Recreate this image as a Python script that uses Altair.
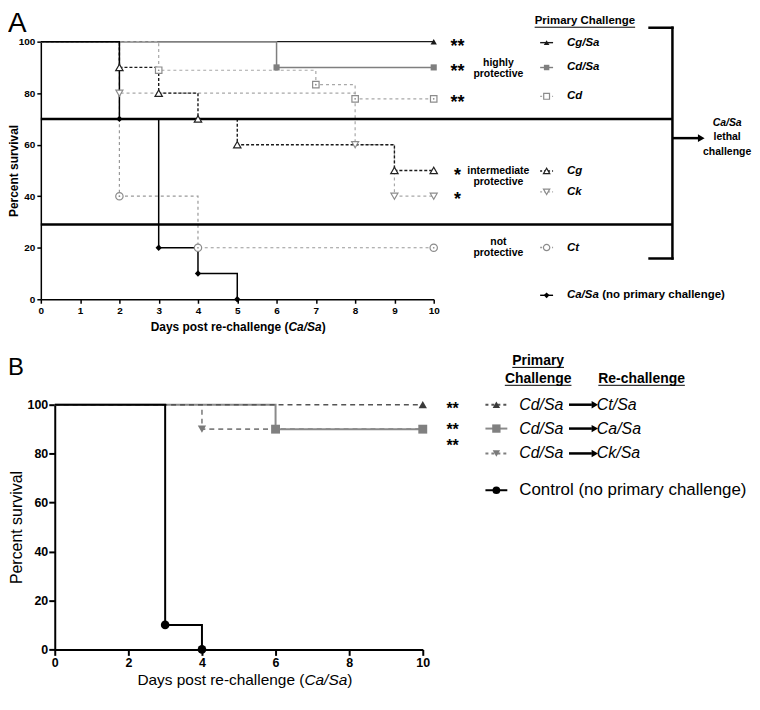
import altair as alt
import pandas as pd

FONT = "Liberation Sans"

# ---------------- Panel A data (days, percent survival) ----------------
a_cgsa_days = [0, 10]
a_cgsa_pct = [100, 100]
a_cdsa_days = [0, 6, 10]
a_cdsa_pct = [100, 90, 90]
a_cd_days = [0, 3, 7, 8, 10]
a_cd_pct = [100, 88.9, 83.3, 77.8, 77.8]
a_cg_days = [0, 2, 3, 4, 5, 9, 10]
a_cg_pct = [100, 90, 80, 70, 60, 50, 50]
a_ck_days = [0, 2, 8, 9, 10]
a_ck_pct = [100, 80, 60, 40, 40]
a_ct_days = [0, 2, 4, 10]
a_ct_pct = [100, 40, 20, 20]
a_casa_days = [0, 2, 3, 4, 5]
a_casa_pct = [100, 70, 20, 10, 0]
a_band_limits = [70, 29]
a_x_ticks = [0, 1, 2, 3, 4, 5, 6, 7, 8, 9, 10]
a_y_ticks = [0, 20, 40, 60, 80, 100]

# ---------------- Panel B data ----------------
b_ct_days = [0, 10]
b_ct_pct = [100, 100]
b_ca_days = [0, 6, 10]
b_ca_pct = [100, 90, 90]
b_ck_days = [0, 4, 10]
b_ck_pct = [100, 90, 90]
b_ctrl_days = [0, 3, 4]
b_ctrl_pct = [100, 10, 0]
b_x_ticks = [0, 2, 4, 6, 8, 10]
b_y_ticks = [0, 20, 40, 60, 80, 100]

ONE = pd.DataFrame({"k": [0]})


def text(s, x, y, size, weight="normal", style="normal", align="left",
         baseline="middle", color="black", dy=0):
    kw = dict(text=s, fontSize=size, fontWeight=weight, fontStyle=style,
              align=align, baseline=baseline, color=color, font=FONT, clip=False)
    if dy:
        kw["dy"] = dy
    return alt.Chart(ONE).mark_text(**kw).encode(x=alt.value(x), y=alt.value(y))


def seg(x1, x2, y, color="black", width=1.5, dash=None, cap="butt"):
    kw = dict(color=color, strokeWidth=width, clip=False, strokeCap=cap)
    if dash:
        kw["strokeDash"] = dash
    return alt.Chart(ONE).mark_rule(**kw).encode(
        x=alt.value(x1), x2=alt.value(x2), y=alt.value(y))


def vseg(x, y1, y2, color="black", width=1.5, cap="butt"):
    return alt.Chart(ONE).mark_rule(color=color, strokeWidth=width, clip=False,
                                    strokeCap=cap).encode(
        x=alt.value(x), y=alt.value(y1), y2=alt.value(y2))


def point_kw(shape, size, color, open_, sw):
    if open_:
        return dict(shape=shape, size=size, filled=True, fill="white", stroke=color,
                    strokeWidth=sw, opacity=1, clip=False)
    return dict(shape=shape, size=size, filled=True, color=color, opacity=1,
                strokeWidth=0, clip=False)


def glyph(x, y, shape, size, color, open_=False, sw=1.2):
    return alt.Chart(ONE).mark_point(**point_kw(shape, size, color, open_, sw)).encode(
        x=alt.value(x), y=alt.value(y))


def km_line(days, pct, color, width, dash, xenc, yenc):
    df = pd.DataFrame({"day": days, "pct": pct})
    kw = dict(interpolate="step-after", color=color, strokeWidth=width, clip=False)
    if dash:
        kw["strokeDash"] = dash
    return alt.Chart(df).mark_line(**kw).encode(x=xenc, y=yenc)


def km_marks(days, pct, shape, size, color, open_, xenc, yenc, sw=1.2, dot=False):
    df = pd.DataFrame({"day": days[1:], "pct": pct[1:]})
    base = alt.Chart(df)
    out = [base.mark_point(**point_kw(shape, size, color, open_, sw)).encode(x=xenc, y=yenc)]
    if dot:
        out.append(base.mark_point(shape="circle", size=3, filled=True, color=color,
                                   opacity=1, clip=False).encode(x=xenc, y=yenc))
    return out


# ================= PANEL A =================
WA, HA = 395, 259
axis_common_a = dict(labelFontSize=10, labelFontWeight="bold", labelFont=FONT,
                     labelColor="black", labelPadding=2, tickSize=4, tickWidth=1.5,
                     tickColor="black", domainColor="black", domainWidth=1.5,
                     grid=False)
xA = alt.X("day:Q", scale=alt.Scale(domain=[0, 10], nice=False, zero=False),
           axis=alt.Axis(values=a_x_ticks, title=None, labelFlush=False,
                         format="d", **axis_common_a))
yA = alt.Y("pct:Q", scale=alt.Scale(domain=[0, 100], nice=False),
           axis=alt.Axis(values=a_y_ticks, title="Percent survival", titleFont=FONT,
                         titleFontSize=12, titleFontWeight="bold", titleColor="black",
                         titleX=-27, titleY=HA / 2, titleAngle=270,
                         titleBaseline="middle", titleAlign="center",
                         **axis_common_a))

a_styles = [
    # days, pct, color, width, dash, shape, size, open, dot
    (a_cgsa_days, a_cgsa_pct, "#1a1a1a", 1.3, None, "triangle-up", 40, False, False),
    (a_cdsa_days, a_cdsa_pct, "#7f7f7f", 1.5, None, "square", 38, False, False),
    (a_cd_days, a_cd_pct, "#a8a8a8", 1.2, [3, 3], "square", 42, True, True),
    (a_ck_days, a_ck_pct, "#a8a8a8", 1.2, [3, 3], "triangle-down", 50, True, False),
    (a_ct_days, a_ct_pct, "#999999", 1.2, [3, 3], "circle", 55, True, True),
    (a_cg_days, a_cg_pct, "#1a1a1a", 1.4, [3, 2], "triangle-up", 55, True, False),
    (a_casa_days, a_casa_pct, "#000000", 1.5, None, "diamond", 40, False, False),
]

layers_a = []
for d, p, c, w, dash, *_ in a_styles:
    layers_a.append(km_line(d, p, c, w, dash, xA, yA))

# band limits
layers_a.append(alt.Chart(pd.DataFrame({"pct": a_band_limits})).mark_rule(
    color="black", strokeWidth=2.5, clip=False).encode(
    x=alt.value(0), x2=alt.value(635), y=yA))

for d, p, c, w, dash, shape, size, open_, dot in a_styles:
    layers_a += km_marks(d, p, shape, size, c if not open_ else ("#222222" if c == "#1a1a1a" else "#8c8c8c"),
                         open_, xA, yA, dot=dot)

# stars
for yy, s in [(0, "**"), (26, "**"), (57, "**"), (130, "*"), (154, "*")]:
    layers_a.append(text(s, 419, yy, 18, weight="bold", align="center",
                         baseline="alphabetic", dy=10))

# protection class labels
for s, yy in [("highly", 21), ("protective", 33), ("intermediate", 130),
              ("protective", 141), ("not", 201), ("protective", 213)]:
    layers_a.append(text(s, 460, yy, 10.5, weight="bold", align="center"))

# legend heading
layers_a.append(text("Primary Challenge", 547, -21, 11.5, weight="bold", align="center"))
layers_a.append(seg(496.5, 597.5, -14.5, width=1))

# legend rows: (label, y, color, dash, shape, size, open)
a_legend = [
    ("Cg/Sa", 1, "#1a1a1a", None, "triangle-up", 32, False),
    ("Cd/Sa", 26, "#7f7f7f", None, "square", 30, False),
    ("Cd", 55, "#a8a8a8", [2, 2], "square", 34, True),
    ("Cg", 130, "#1a1a1a", [2, 2], "triangle-up", 40, True),
    ("Ck", 151, "#a8a8a8", [2, 2], "triangle-down", 40, True),
    ("Ct", 207, "#999999", [2, 2], "circle", 40, True),
    ("Ca/Sa", 255, "#000000", None, "diamond", 34, False),
]
for lab, yy, c, dash, shape, size, open_ in a_legend:
    layers_a.append(seg(502, 515, yy, color=c, width=1.4, dash=dash))
    layers_a.append(glyph(508.5, yy, shape, size,
                          c if not open_ else ("#222222" if c == "#1a1a1a" else "#8c8c8c"),
                          open_=open_))
    layers_a.append(text(lab, 529, yy, 11.5, weight="bold", style="italic"))
layers_a.append(text("(no primary challenge)", 564.5, 255, 11.5, weight="bold"))

# bracket and arrow
layers_a.append(seg(612, 635, -14, width=2.5, cap="square"))
layers_a.append(vseg(635, -14, 218, width=2.5, cap="square"))
layers_a.append(seg(612, 635, 218, width=2.5, cap="square"))
layers_a.append(seg(635, 661, 97, width=2.5))
layers_a.append(glyph(664, 97, "triangle-right", 60, "black"))
layers_a.append(text("Ca/Sa", 690, 82, 10.5, weight="bold", style="italic", align="center"))
layers_a.append(text("lethal", 690, 96, 10.5, weight="bold", align="center"))
layers_a.append(text("challenge", 690, 111, 10.5, weight="bold", align="center"))

# x title (mixed style)
layers_a.append(text("Days post re-challenge (", 249, 287, 12, weight="bold", align="right"))
layers_a.append(text("Ca/Sa", 249, 287, 12, weight="bold", style="italic"))
layers_a.append(text(")", 282.5, 287, 12, weight="bold"))

# panel letter
layers_a.append(text("A", -33, -10, 28, baseline="alphabetic"))

panel_a = alt.layer(*layers_a).properties(width=WA, height=HA)

# ================= PANEL B =================
OB = 14                      # inner offset of panel B plot relative to panel A
WB, HB = 370, 246
axis_common_b = dict(labelFontSize=12.5, labelFontWeight="bold", labelFont=FONT,
                     labelColor="black", labelPadding=1, tickSize=6, tickWidth=2,
                     tickColor="black", domainColor="black", domainWidth=2,
                     grid=False)
xB = alt.X("day:Q", scale=alt.Scale(domain=[0, 10], nice=False, zero=False,
                                    range=[OB, OB + WB]),
           axis=alt.Axis(values=b_x_ticks, title=None, labelFlush=False,
                         format="d", **axis_common_b))
yB = alt.Y("pct:Q", scale=alt.Scale(domain=[0, 100], nice=False),
           axis=alt.Axis(values=b_y_ticks, title="Percent survival", titleFont=FONT,
                         titleFontSize=16, titleFontWeight="normal", titleColor="black",
                         titleX=-38, titleY=HB / 2, titleAngle=270,
                         titleBaseline="middle", titleAlign="center", offset=-OB,
                         **axis_common_b))

b_styles = [
    (b_ck_days, b_ck_pct, "#808080", 1.6, [5, 4], "triangle-down", 70, "#7a7a7a"),
    (b_ca_days, b_ca_pct, "#8a8a8a", 2.0, None, "square", 80, "#808080"),
    (b_ct_days, b_ct_pct, "#555555", 1.6, [5, 4], "triangle-up", 70, "#3a3a3a"),
    (b_ctrl_days, b_ctrl_pct, "#000000", 2.0, None, "circle", 75, "#000000"),
]
layers_b = []
for d, p, c, w, dash, *_ in b_styles:
    layers_b.append(km_line(d, p, c, w, dash, xB, yB))
for d, p, c, w, dash, shape, size, mc in b_styles:
    layers_b += km_marks(d, p, shape, size, mc, False, xB, yB)

# stars
for yy in [0, 21, 38]:
    layers_b.append(text("**", OB + 400, yy, 16, weight="bold", align="center",
                         baseline="alphabetic", dy=9))

# legend headings
layers_b.append(text("Primary", OB + 486, -44, 14, weight="bold", align="center"))
layers_b.append(seg(OB + 460, OB + 512, -37.5, width=1))
layers_b.append(text("Challenge", OB + 486, -26, 14, weight="bold", align="center"))
layers_b.append(seg(OB + 452.5, OB + 519.5, -19.5, width=1))
layers_b.append(text("Re-challenge", OB + 590, -26, 14, weight="bold", align="center"))
layers_b.append(seg(OB + 546.5, OB + 633.5, -19.5, width=1))

b_legend = [
    ("Ct/Sa", 0, "#555555", [3, 3], "triangle-up", 55, "#3a3a3a"),
    ("Ca/Sa", 24, "#8a8a8a", None, "square", 70, "#808080"),
    ("Ck/Sa", 49, "#808080", [3, 3], "triangle-down", 55, "#7a7a7a"),
]
for lab, yy, c, dash, shape, size, mc in b_legend:
    layers_b.append(seg(OB + 433, OB + 455, yy, color=c, width=2, dash=dash))
    layers_b.append(glyph(OB + 444, yy, shape, size, mc))
    layers_b.append(text("Cd/Sa", OB + 467, yy, 16, style="italic"))
    layers_b.append(seg(OB + 517, OB + 540, yy, width=2.5))
    layers_b.append(glyph(OB + 543, yy, "triangle-right", 55, "black"))
    layers_b.append(text(lab, OB + 545, yy, 16, style="italic"))

layers_b.append(seg(OB + 433, OB + 455, 86, width=2))
layers_b.append(glyph(OB + 444, 86, "circle", 60, "black"))
layers_b.append(text("Control (no primary challenge)", OB + 467, 86, 17))

# x title
layers_b.append(text("Days post re-challenge (", OB + 251, 276.5, 15.5, align="right"))
layers_b.append(text("Ca/Sa", OB + 251, 276.5, 15.5, style="italic"))
layers_b.append(text(")", OB + 294, 276.5, 15.5))

layers_b.append(text("B", OB - 47, -30, 24, baseline="alphabetic"))

panel_b = alt.layer(*layers_b).properties(width=OB + WB, height=HB)

chart = alt.concat(panel_a, panel_b, columns=1, spacing=21,
                   bounds="full").properties(
    padding={"left": 0, "top": 0, "right": 0, "bottom": 0}
).configure(font=FONT).configure_view(stroke=None)

chart.save("out.html", embed_options={"renderer": "svg", "actions": False})
